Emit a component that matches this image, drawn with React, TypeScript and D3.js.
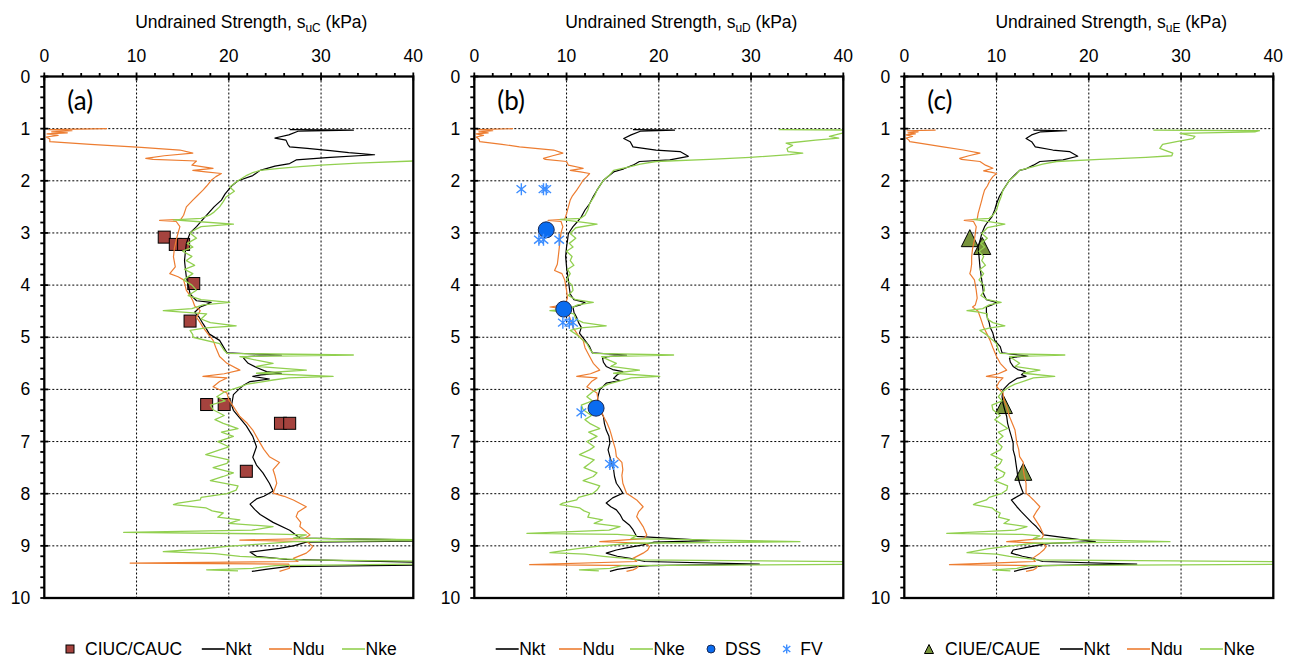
import React from "react";
import * as d3 from "d3";

// ---------- tick labels ----------
const suTicks = [0, 10, 20, 30, 40];
const depthTicks = [0, 1, 2, 3, 4, 5, 6, 7, 8, 9, 10];

// ---------- data: [depth (m), su (kPa)] ----------
const nktA = [[1.02,26.6],[1.03,33.5],[1.05,27.5],[1.12,26.5],[1.18,25.0],[1.22,26.2],[1.3,26.4],[1.35,26.6],[1.38,28.5],[1.42,31.0],[1.46,33.0],[1.5,35.8],[1.55,31.0],[1.6,27.3],[1.67,26.6],[1.72,25.0],[1.8,23.4],[1.9,22.6],[2.0,21.0],[2.1,20.3],[2.25,19.6],[2.37,19.2],[2.5,18.4],[2.66,17.6],[2.78,17.0],[2.88,16.5],[3.0,15.8],[3.1,15.6],[3.2,15.4],[3.35,15.3],[3.53,15.2],[3.7,15.3],[3.85,15.4],[4.0,15.6],[4.17,15.8],[4.3,16.5],[4.33,18.1],[4.38,17.5],[4.42,16.9],[4.52,16.3],[4.62,16.8],[4.74,17.2],[4.85,17.6],[4.94,17.9],[5.06,19.0],[5.18,19.4],[5.3,19.8],[5.34,25.7],[5.37,22.0],[5.4,21.6],[5.5,22.1],[5.58,23.0],[5.66,24.1],[5.69,25.7],[5.72,23.5],[5.75,22.6],[5.8,24.4],[5.85,22.3],[5.92,21.6],[5.98,21.2],[6.1,20.5],[6.2,20.4],[6.3,20.3],[6.4,20.5],[6.55,21.2],[6.7,21.9],[6.9,22.6],[7.1,23.0],[7.2,22.8],[7.3,22.6],[7.45,23.0],[7.6,23.7],[7.8,24.4],[7.95,24.8],[8.05,23.8],[8.1,23.0],[8.2,22.3],[8.3,22.8],[8.4,23.4],[8.55,24.8],[8.7,26.6],[8.85,27.7],[8.9,45],[8.93,28.4],[9.0,27.0],[9.05,25.5],[9.12,22.3],[9.2,23.0],[9.26,26.3],[9.33,45],[9.36,45],[9.4,26.3],[9.45,24.0],[9.49,22.5]];
const nduA = [[1.0,6.8],[1.02,0.5],[1.04,3.0],[1.06,0.8],[1.08,2.5],[1.1,0.3],[1.13,1.5],[1.16,0.2],[1.2,0.6],[1.25,0.6],[1.3,5.0],[1.36,10.5],[1.41,14.7],[1.47,16.1],[1.52,13.0],[1.57,11.0],[1.59,11.8],[1.62,16.5],[1.7,16.0],[1.76,18.3],[1.8,16.1],[1.83,17.5],[1.86,19.2],[1.92,18.6],[1.99,18.1],[2.1,17.6],[2.18,17.2],[2.3,16.5],[2.37,16.1],[2.5,15.4],[2.66,15.1],[2.74,14.8],[2.76,12.5],[2.78,14.3],[2.88,14.7],[3.0,14.5],[3.14,14.3],[3.3,14.1],[3.46,14.0],[3.65,14.2],[3.78,13.6],[3.84,14.5],[3.9,15.1],[4.1,15.4],[4.2,15.8],[4.3,16.1],[4.4,16.3],[4.49,16.9],[4.62,16.5],[4.72,16.9],[4.81,17.2],[4.95,17.8],[5.06,18.3],[5.2,18.6],[5.37,19.0],[5.5,19.8],[5.63,21.2],[5.7,19.5],[5.75,17.2],[5.78,19.8],[5.85,19.0],[5.95,18.3],[6.07,19.8],[6.2,20.0],[6.33,20.5],[6.52,21.2],[6.65,22.0],[6.78,22.6],[7.03,23.4],[7.15,23.8],[7.29,24.4],[7.4,25.5],[7.54,24.8],[7.65,25.0],[7.8,25.2],[7.99,24.8],[8.05,26.0],[8.12,27.0],[8.25,28.4],[8.35,27.5],[8.44,27.3],[8.55,27.8],[8.63,27.7],[8.79,28.8],[8.86,28.2],[8.89,21.2],[8.92,28.5],[9.01,29.1],[9.08,28.8],[9.14,28.4],[9.24,27.0],[9.3,27.5],[9.33,9.3],[9.35,26.5],[9.43,26.6],[9.49,25.5]];
const nkeA = [[1.6,45],[1.62,40],[1.66,34],[1.7,30],[1.73,27.7],[1.76,25.5],[1.8,23.4],[1.85,22.5],[1.89,22.0],[2.0,21.0],[2.12,20.1],[2.2,20.6],[2.31,19.7],[2.4,19.4],[2.5,19.0],[2.6,18.4],[2.66,17.9],[2.72,17.0],[2.75,14.0],[2.78,16.5],[2.83,20.5],[2.88,17.0],[2.95,16.2],[3.0,15.8],[3.1,16.5],[3.2,15.5],[3.27,16.1],[3.35,15.0],[3.45,16.0],[3.53,15.4],[3.62,16.3],[3.7,15.2],[3.78,16.1],[3.9,15.1],[4.0,16.0],[4.1,16.5],[4.2,15.6],[4.28,17.0],[4.33,20.1],[4.38,17.2],[4.45,16.0],[4.49,12.9],[4.52,15.0],[4.55,17.6],[4.65,17.0],[4.72,18.0],[4.78,20.8],[4.82,17.5],[4.87,15.8],[4.95,16.1],[5.0,16.1],[5.12,19.0],[5.25,19.5],[5.31,19.8],[5.34,33.5],[5.37,21.2],[5.44,23.0],[5.5,24.8],[5.56,23.0],[5.63,28.4],[5.69,23.0],[5.75,31.3],[5.78,26.5],[5.82,24.8],[5.9,22.0],[5.95,21.2],[6.05,19.5],[6.14,18.7],[6.22,19.6],[6.3,18.0],[6.39,18.3],[6.5,19.5],[6.58,18.5],[6.65,19.4],[6.75,21.0],[6.82,19.2],[6.9,20.5],[7.0,18.8],[7.1,20.0],[7.16,19.0],[7.25,17.5],[7.35,20.0],[7.42,19.8],[7.5,18.3],[7.6,20.5],[7.67,19.4],[7.75,18.0],[7.85,21.0],[7.93,20.8],[8.0,19.8],[8.07,17.0],[8.12,16.9],[8.18,14.5],[8.21,14.0],[8.27,17.5],[8.33,18.2],[8.37,19.4],[8.45,18.8],[8.5,21.2],[8.57,20.0],[8.63,24.8],[8.7,22.5],[8.74,8.6],[8.77,24.0],[8.79,28.4],[8.85,27.0],[8.89,45],[8.92,27.0],[8.97,23.0],[9.01,19.8],[9.06,17.0],[9.11,12.9],[9.15,18.5],[9.2,21.2],[9.27,28.0],[9.3,45],[9.34,45],[9.38,25.0],[9.43,22.6],[9.46,17.6],[9.48,21.0]];

const nktB = [[1.02,17.2],[1.03,21.7],[1.05,18.0],[1.12,17.0],[1.19,16.2],[1.25,16.9],[1.35,17.2],[1.41,19.7],[1.44,22.3],[1.53,23.2],[1.6,21.2],[1.63,17.9],[1.7,17.2],[1.77,16.2],[1.83,15.1],[1.99,14.0],[2.18,13.3],[2.3,12.9],[2.44,12.5],[2.56,12.0],[2.69,11.6],[2.8,11.1],[2.88,10.7],[3.01,10.2],[3.15,10.1],[3.27,10.0],[3.45,9.9],[3.65,10.0],[3.78,10.1],[3.91,10.2],[4.05,10.3],[4.17,10.4],[4.28,10.8],[4.33,12.0],[4.38,11.5],[4.42,10.7],[4.52,10.8],[4.62,11.1],[4.72,11.3],[4.81,11.6],[4.92,11.4],[5.06,12.0],[5.18,12.5],[5.3,12.8],[5.34,16.5],[5.37,14.5],[5.4,13.9],[5.48,14.0],[5.56,14.3],[5.62,15.0],[5.66,16.1],[5.72,15.5],[5.79,15.1],[5.83,15.8],[5.88,14.3],[6.01,13.6],[6.14,13.4],[6.27,13.3],[6.4,13.6],[6.52,14.0],[6.65,14.1],[6.78,14.3],[6.9,14.6],[7.03,14.7],[7.16,14.5],[7.29,14.7],[7.42,14.9],[7.54,15.1],[7.67,15.2],[7.8,15.4],[7.9,15.8],[7.99,16.1],[8.08,15.0],[8.18,14.3],[8.25,14.8],[8.31,15.4],[8.4,15.8],[8.5,16.1],[8.6,16.8],[8.69,17.2],[8.82,17.6],[8.9,25.5],[8.93,19.5],[8.98,18.3],[9.04,16.5],[9.08,15.4],[9.14,14.3],[9.2,15.5],[9.24,16.9],[9.3,18.5],[9.35,30.9],[9.38,19.0],[9.4,17.6],[9.45,15.5],[9.49,14.7]];
const nduB = [[1.0,4.2],[1.02,0.3],[1.04,2.0],[1.06,0.5],[1.08,1.5],[1.1,0.2],[1.13,1.0],[1.16,0.2],[1.2,0.5],[1.25,0.6],[1.3,3.0],[1.35,4.9],[1.41,8.6],[1.47,9.6],[1.52,8.5],[1.57,7.5],[1.59,7.7],[1.63,10.0],[1.7,10.2],[1.76,11.8],[1.8,10.4],[1.83,11.5],[1.86,12.5],[1.92,12.2],[1.99,11.8],[2.1,11.4],[2.18,11.1],[2.3,10.6],[2.37,10.4],[2.5,10.2],[2.63,10.0],[2.74,9.8],[2.76,8.0],[2.78,9.4],[2.88,9.6],[3.0,9.4],[3.14,9.3],[3.3,9.2],[3.46,9.1],[3.6,9.0],[3.72,8.7],[3.78,9.5],[3.9,9.8],[4.1,10.0],[4.25,10.1],[4.38,9.8],[4.42,8.2],[4.46,10.0],[4.55,10.2],[4.65,10.4],[4.81,10.7],[4.95,11.2],[5.06,11.8],[5.2,12.0],[5.37,12.5],[5.5,12.9],[5.63,13.6],[5.7,12.6],[5.75,11.1],[5.78,13.3],[5.85,12.7],[5.95,12.2],[6.07,13.3],[6.2,13.4],[6.33,13.6],[6.52,14.0],[6.65,14.4],[6.78,14.7],[6.9,14.9],[7.03,15.1],[7.15,15.3],[7.29,15.4],[7.4,16.0],[7.54,16.1],[7.65,16.0],[7.8,16.1],[7.99,16.5],[8.05,17.0],[8.12,17.6],[8.25,18.3],[8.35,17.8],[8.44,17.6],[8.55,18.0],[8.63,18.3],[8.79,18.7],[8.86,18.4],[8.92,13.6],[8.95,18.5],[9.01,19.0],[9.08,18.8],[9.14,18.3],[9.24,17.2],[9.3,17.6],[9.36,6.0],[9.38,17.8],[9.43,17.6],[9.46,17.2],[9.49,16.5]];
const nkeB = [[1.02,33.0],[1.03,45],[1.06,45],[1.08,40],[1.15,38.5],[1.18,39.5],[1.22,37.0],[1.28,33.8],[1.32,34.5],[1.38,33.9],[1.44,34.0],[1.47,35.6],[1.5,34.2],[1.55,29.9],[1.59,25.5],[1.63,19.7],[1.68,18.0],[1.73,16.9],[1.8,15.1],[1.9,14.6],[1.99,14.0],[2.1,13.6],[2.18,13.3],[2.3,13.0],[2.44,12.5],[2.56,12.3],[2.66,12.0],[2.72,11.5],[2.74,9.3],[2.78,11.0],[2.83,13.3],[2.9,11.0],[3.01,10.4],[3.1,11.0],[3.2,10.3],[3.27,10.7],[3.35,10.0],[3.45,10.6],[3.53,10.4],[3.62,10.8],[3.7,10.1],[3.78,10.4],[3.9,10.0],[4.0,10.6],[4.1,10.7],[4.2,10.2],[4.28,11.0],[4.33,12.9],[4.38,11.2],[4.45,10.4],[4.49,8.2],[4.52,9.8],[4.55,10.8],[4.65,11.0],[4.72,11.8],[4.78,14.3],[4.82,11.5],[4.87,10.4],[4.95,11.1],[5.06,11.8],[5.12,12.2],[5.25,12.6],[5.31,12.9],[5.34,21.6],[5.37,13.8],[5.44,14.6],[5.5,15.4],[5.56,14.8],[5.63,17.9],[5.69,15.1],[5.75,20.1],[5.78,17.0],[5.82,16.1],[5.9,14.5],[5.95,13.9],[6.05,12.8],[6.14,12.2],[6.22,12.8],[6.3,11.6],[6.39,11.8],[6.5,12.7],[6.58,12.0],[6.65,12.5],[6.75,13.6],[6.82,12.4],[6.9,13.3],[7.0,12.2],[7.1,13.0],[7.16,12.5],[7.25,11.4],[7.35,13.0],[7.42,12.5],[7.5,11.9],[7.6,13.3],[7.67,12.9],[7.75,11.8],[7.85,13.6],[7.93,13.3],[8.0,12.8],[8.07,11.3],[8.12,11.1],[8.18,9.6],[8.21,9.3],[8.27,11.4],[8.33,11.9],[8.37,12.5],[8.45,12.3],[8.5,13.9],[8.57,13.0],[8.63,15.8],[8.7,14.6],[8.76,5.7],[8.78,15.5],[8.81,17.6],[8.86,17.0],[8.92,35.3],[8.95,17.0],[9.01,13.3],[9.06,11.0],[9.13,8.2],[9.16,12.0],[9.2,14.0],[9.27,18.0],[9.31,45],[9.35,45],[9.38,16.0],[9.43,14.7],[9.46,11.4],[9.48,13.5]];

const nktC = [[1.03,14.0],[1.04,17.6],[1.06,14.8],[1.12,13.8],[1.19,13.2],[1.25,13.8],[1.35,14.2],[1.41,16.1],[1.44,17.9],[1.53,18.8],[1.6,17.2],[1.63,14.7],[1.7,14.0],[1.77,13.2],[1.8,12.5],[1.99,11.4],[2.18,10.7],[2.3,10.3],[2.44,10.0],[2.56,9.8],[2.69,9.5],[2.8,9.0],[2.88,8.7],[3.01,8.4],[3.15,8.2],[3.27,8.0],[3.45,8.1],[3.65,8.2],[3.78,8.3],[3.91,8.4],[4.05,8.5],[4.17,8.6],[4.28,8.9],[4.33,10.0],[4.38,9.5],[4.42,8.9],[4.52,8.9],[4.62,9.0],[4.72,9.2],[4.81,9.3],[4.92,9.6],[5.06,9.8],[5.18,10.4],[5.3,10.6],[5.36,13.4],[5.38,12.0],[5.4,11.4],[5.48,11.5],[5.56,11.8],[5.62,12.3],[5.66,13.1],[5.72,12.7],[5.75,13.2],[5.79,12.2],[5.88,11.4],[6.01,10.7],[6.14,10.6],[6.27,10.7],[6.4,10.9],[6.52,11.1],[6.65,11.2],[6.78,11.4],[6.9,11.6],[7.03,11.8],[7.16,11.8],[7.29,12.0],[7.42,12.1],[7.54,12.2],[7.67,12.3],[7.8,12.5],[7.9,12.7],[7.99,12.9],[8.08,12.0],[8.12,11.6],[8.25,12.2],[8.35,12.7],[8.44,13.2],[8.55,13.8],[8.63,14.3],[8.79,15.1],[8.92,20.7],[8.95,16.0],[8.98,14.7],[9.04,13.0],[9.08,11.8],[9.14,11.6],[9.2,12.8],[9.24,13.9],[9.3,15.0],[9.35,25.2],[9.38,15.0],[9.4,14.3],[9.46,12.5],[9.49,11.9]];
const nduC = [[1.03,3.4],[1.04,0.3],[1.06,1.5],[1.08,0.4],[1.1,1.2],[1.12,0.2],[1.15,0.9],[1.18,0.2],[1.22,0.5],[1.25,0.6],[1.3,2.5],[1.35,4.2],[1.41,6.4],[1.47,8.2],[1.52,7.0],[1.57,6.0],[1.59,6.2],[1.63,8.2],[1.7,8.8],[1.76,9.6],[1.81,8.6],[1.84,9.5],[1.86,10.0],[1.92,9.6],[1.99,9.3],[2.1,9.0],[2.18,8.7],[2.3,8.5],[2.37,8.4],[2.5,8.2],[2.63,8.0],[2.74,7.9],[2.76,6.5],[2.78,7.5],[2.88,7.8],[3.0,7.7],[3.14,7.6],[3.3,7.4],[3.46,7.3],[3.6,7.3],[3.72,7.2],[3.78,7.1],[3.9,7.6],[4.1,7.8],[4.25,7.9],[4.38,7.7],[4.42,7.4],[4.5,8.0],[4.65,8.3],[4.81,8.6],[4.95,9.0],[5.06,9.3],[5.2,9.6],[5.37,10.0],[5.5,10.4],[5.63,11.1],[5.7,10.2],[5.75,8.9],[5.78,10.7],[5.85,10.3],[5.95,10.0],[6.07,10.7],[6.2,10.8],[6.33,11.1],[6.52,11.4],[6.65,11.7],[6.78,12.0],[6.9,12.1],[7.03,12.2],[7.15,12.4],[7.29,12.5],[7.4,12.9],[7.54,12.9],[7.65,13.0],[7.8,13.2],[7.99,13.2],[8.05,13.6],[8.12,14.0],[8.25,14.7],[8.35,14.3],[8.44,14.0],[8.55,14.4],[8.63,14.7],[8.79,15.1],[8.86,14.9],[8.92,11.1],[8.95,15.0],[9.01,15.4],[9.08,15.1],[9.14,14.7],[9.24,13.9],[9.3,14.2],[9.36,4.9],[9.38,14.5],[9.43,14.3],[9.46,14.0],[9.49,13.2]];
const nkeC = [[1.03,27.0],[1.04,38.5],[1.06,38.0],[1.09,29.9],[1.15,31.5],[1.19,31.3],[1.25,29.5],[1.3,28.0],[1.38,27.7],[1.43,28.5],[1.47,29.1],[1.52,29.0],[1.55,26.2],[1.59,21.2],[1.63,16.5],[1.68,15.0],[1.73,14.0],[1.8,12.5],[1.9,12.0],[1.99,11.4],[2.1,11.0],[2.18,10.7],[2.3,10.5],[2.44,10.2],[2.56,10.0],[2.66,9.6],[2.72,9.2],[2.74,7.5],[2.78,9.0],[2.83,10.9],[2.9,9.0],[3.01,8.4],[3.1,9.0],[3.2,8.3],[3.27,8.7],[3.35,8.1],[3.45,8.6],[3.53,8.4],[3.62,8.8],[3.7,8.2],[3.78,8.6],[3.9,8.1],[4.0,8.6],[4.1,8.7],[4.2,8.3],[4.28,9.0],[4.33,10.5],[4.38,9.2],[4.45,8.5],[4.49,6.8],[4.52,8.1],[4.55,9.0],[4.65,9.0],[4.72,9.6],[4.78,10.9],[4.82,9.3],[4.87,8.2],[4.95,8.9],[5.06,9.6],[5.12,10.0],[5.25,10.2],[5.31,10.4],[5.34,17.4],[5.37,11.4],[5.44,12.0],[5.5,12.5],[5.56,12.0],[5.63,14.7],[5.69,12.9],[5.75,16.3],[5.78,14.0],[5.82,13.3],[5.9,12.0],[5.95,11.4],[6.05,10.6],[6.14,10.2],[6.22,10.6],[6.3,9.5],[6.39,9.6],[6.5,10.4],[6.58,9.8],[6.65,10.4],[6.75,11.2],[6.82,10.2],[6.9,10.7],[7.0,10.0],[7.1,10.6],[7.16,10.4],[7.25,9.4],[7.35,10.6],[7.42,10.4],[7.5,9.8],[7.6,10.9],[7.67,10.7],[7.75,9.8],[7.85,11.2],[7.93,11.1],[8.0,10.5],[8.07,9.2],[8.12,8.9],[8.18,7.8],[8.21,7.5],[8.27,9.5],[8.33,9.9],[8.37,10.4],[8.45,10.2],[8.5,11.4],[8.57,10.8],[8.63,13.3],[8.7,12.0],[8.76,4.6],[8.78,12.8],[8.81,14.7],[8.86,14.0],[8.92,28.8],[8.95,14.0],[9.01,11.1],[9.06,9.0],[9.13,6.8],[9.16,10.0],[9.2,11.4],[9.27,14.5],[9.31,45],[9.35,45],[9.38,13.5],[9.43,12.2],[9.46,9.6],[9.48,11.5]];

// lab tests [depth, su]
const ciuc = [[3.08,13.0],[3.22,14.2],[3.22,15.1],[3.97,16.2],[4.69,15.8],[6.29,17.6],[6.29,19.5],[6.65,25.6],[6.65,26.6],[7.57,21.9]];
const dss = [[2.94,7.8],[4.46,9.7],[6.36,13.2]];
const fv = [[2.16,5.1],[2.16,7.5],[2.16,7.8],[3.13,7.0],[3.13,7.5],[3.13,9.2],[4.72,9.6],[4.72,10.3],[4.72,10.7],[6.44,11.6],[7.43,14.7],[7.43,15.1]];
const ciue = [[3.1,7.1],[3.25,8.45],[6.3,10.8],[7.58,12.9]];

// ---------- styling ----------
const FONT = "'Liberation Sans', Arial, sans-serif";
const FS = 17.5;
const C_NKT = "#000000";
const C_NDU = "#ED7D31";
const C_NKE = "#92D050";
const C_SQ = "#A5433E";
const C_DSS = "#0A6CF0";
const C_FV = "#3C8DFF";
const C_TRI = "#77933C";

const Y0 = 76.5;
const Y1 = 598;
const PW = 369;

type Pt = number[];

function Marker({ kind, cx, cy, s }: { kind: string; cx: number; cy: number; s: number }) {
  if (kind === "square")
    return <rect x={cx - s / 2} y={cy - s / 2} width={s} height={s} fill={C_SQ} stroke="#000" strokeWidth={1} />;
  if (kind === "circle")
    return <circle cx={cx} cy={cy} r={s / 2} fill={C_DSS} stroke="#1a2a55" strokeWidth={1} />;
  if (kind === "tri") {
    const h = s;
    return (
      <path
        d={`M${cx},${cy - h / 2} L${cx + s / 2},${cy + h / 2} L${cx - s / 2},${cy + h / 2} Z`}
        fill={C_TRI}
        stroke="#000"
        strokeWidth={1}
      />
    );
  }
  // star (asterisk)
  const r = s / 2;
  const dx = r * 0.8;
  const dy = r * 0.65;
  return (
    <path
      d={`M${cx},${cy - r} L${cx},${cy + r} M${cx - dx},${cy - dy} L${cx + dx},${cy + dy} M${cx - dx},${cy + dy} L${cx + dx},${cy - dy}`}
      stroke={C_FV}
      strokeWidth={1.4}
      fill="none"
    />
  );
}

function Panel({ idx, x0, sub, label, lines, markers, legend }: any) {
  const x = d3.scaleLinear().domain([0, 40]).range([x0, x0 + PW]);
  const y = d3.scaleLinear().domain([0, 10]).range([Y0, Y1]);
  const line = d3
    .line<Pt>()
    .x((d) => x(d[1]))
    .y((d) => y(d[0]));
  const minorX = d3.range(0, 40.001, 2);
  const minorY = d3.range(0, 10.001, 0.2);
  const clipId = `clip-${idx}`;
  const drawMarkers = (m: any) =>
    m.data.map((d: Pt, i: number) => <Marker key={i} kind={m.kind} cx={x(d[1])} cy={y(d[0])} s={m.size} />);
  return (
    <g>
      <defs>
        <clipPath id={clipId}>
          <rect x={x0} y={Y0} width={PW} height={Y1 - Y0} />
        </clipPath>
      </defs>
      {/* title */}
      <text x={x0 + 207} y={28} textAnchor="middle" fontFamily={FONT} fontSize={FS} fill="#000">
        Undrained Strength, s
        <tspan fontSize={12} dy={4}>
          {sub}
        </tspan>
        <tspan dy={-4}> (kPa)</tspan>
      </text>
      {/* grid */}
      {suTicks.slice(1, -1).map((t) => (
        <line key={"gx" + t} x1={x(t)} x2={x(t)} y1={Y0} y2={Y1} stroke="#000" strokeWidth={1} strokeDasharray="2,2" />
      ))}
      {depthTicks.slice(1, -1).map((t) => (
        <line key={"gy" + t} x1={x0} x2={x0 + PW} y1={y(t)} y2={y(t)} stroke="#000" strokeWidth={1} strokeDasharray="2,2" />
      ))}
      {/* panel label */}
      <text x={x0 + 23} y={110} fontFamily="Lato, 'Open Sans', sans-serif" fontSize={26} fill="#000">
        {label}
      </text>
      <g clipPath={`url(#${clipId})`}>
        {markers.filter((m: any) => m.under).map((m: any, i: number) => <g key={"mu" + i}>{drawMarkers(m)}</g>)}
        {lines.map((l: any, i: number) => (
          <path key={i} d={line(l.data) || ""} fill="none" stroke={l.color} strokeWidth={l.w} strokeLinejoin="round" />
        ))}
        {markers.filter((m: any) => !m.under).map((m: any, i: number) => <g key={"mo" + i}>{drawMarkers(m)}</g>)}
      </g>
      {/* frame */}
      <rect x={x0} y={Y0} width={PW} height={Y1 - Y0} fill="none" stroke="#000" strokeWidth={2.3} />
      {/* top ticks */}
      {minorX.map((t) => (
        <line key={"tx" + t} x1={x(t)} x2={x(t)} y1={t % 10 === 0 ? Y0 - 4 : Y0 - 3.5} y2={t % 10 === 0 ? Y0 + 4 : Y0} stroke="#000" strokeWidth={1.8} />
      ))}
      {suTicks.map((t) => (
        <text key={"lx" + t} x={x(t)} y={61.5} textAnchor="middle" fontFamily={FONT} fontSize={FS} fill="#000">
          {t}
        </text>
      ))}
      {/* left ticks */}
      {minorY.map((t, i) => (
        <line key={"ty" + i} x1={x0 - 4} x2={i % 5 === 0 ? x0 + 4 : x0} y1={y(t)} y2={y(t)} stroke="#000" strokeWidth={1.8} />
      ))}
      {depthTicks.map((t) => (
        <text key={"ly" + t} x={x0 - 14} y={y(t) + 6} textAnchor="end" fontFamily={FONT} fontSize={FS} fill="#000">
          {t}
        </text>
      ))}
      {/* legend */}
      {legend.map((it: any, i: number) => {
        const lx = x0 + it.dx;
        if (it.type === "line")
          return (
            <g key={"lg" + i}>
              <line x1={lx} x2={lx + 23} y1={649} y2={649} stroke={it.color} strokeWidth={1.6} />
              <text x={lx + 23.5} y={655} fontFamily={FONT} fontSize={FS} fill="#000">
                {it.text}
              </text>
            </g>
          );
        return (
          <g key={"lg" + i}>
            <Marker kind={it.kind} cx={lx} cy={649} s={it.size} />
            <text x={lx + it.tdx} y={655} fontFamily={FONT} fontSize={FS} fill="#000">
              {it.text}
            </text>
          </g>
        );
      })}
    </g>
  );
}

export default function App() {
  const panels = [
    {
      x0: 44.3,
      sub: "uC",
      label: "(a)",
      lines: [
        { data: nktA, color: C_NKT, w: 1.2 },
        { data: nduA, color: C_NDU, w: 1.2 },
        { data: nkeA, color: C_NKE, w: 1.3 },
      ],
      markers: [{ data: ciuc, kind: "square", size: 12, under: true }],
      legend: [
        { type: "marker", kind: "square", size: 8, dx: 25.7, tdx: 15, text: "CIUC/CAUC" },
        { type: "line", color: C_NKT, dx: 157.5, text: "Nkt" },
        { type: "line", color: C_NDU, dx: 224.7, text: "Ndu" },
        { type: "line", color: C_NKE, dx: 297.7, text: "Nke" },
      ],
    },
    {
      x0: 474.3,
      sub: "uD",
      label: "(b)",
      lines: [
        { data: nktB, color: C_NKT, w: 1.2 },
        { data: nduB, color: C_NDU, w: 1.2 },
        { data: nkeB, color: C_NKE, w: 1.3 },
      ],
      markers: [
        { data: dss, kind: "circle", size: 16, under: false },
        { data: fv, kind: "star", size: 12, under: false },
      ],
      legend: [
        { type: "line", color: C_NKT, dx: 21.4, text: "Nkt" },
        { type: "line", color: C_NDU, dx: 84.7, text: "Ndu" },
        { type: "line", color: C_NKE, dx: 155.7, text: "Nke" },
        { type: "marker", kind: "circle", size: 8, dx: 236.7, tdx: 14, text: "DSS" },
        { type: "marker", kind: "star", size: 9, dx: 312.4, tdx: 13.5, text: "FV" },
      ],
    },
    {
      x0: 904.3,
      sub: "uE",
      label: "(c)",
      lines: [
        { data: nktC, color: C_NKT, w: 1.2 },
        { data: nduC, color: C_NDU, w: 1.2 },
        { data: nkeC, color: C_NKE, w: 1.3 },
      ],
      markers: [{ data: ciue, kind: "tri", size: 17, under: true }],
      legend: [
        { type: "marker", kind: "tri", size: 9, dx: 24.7, tdx: 16, text: "CIUE/CAUE" },
        { type: "line", color: C_NKT, dx: 155.7, text: "Nkt" },
        { type: "line", color: C_NDU, dx: 222.7, text: "Ndu" },
        { type: "line", color: C_NKE, dx: 295.7, text: "Nke" },
      ],
    },
  ];
  return (
    <svg width={1293} height={659} style={{ display: "block", position: "absolute", left: 0, top: 0, background: "#fff" }}>
      <rect width={1293} height={659} fill="#fff" />
      {panels.map((p, i) => (
        <Panel key={i} idx={i} {...p} />
      ))}
    </svg>
  );
}
